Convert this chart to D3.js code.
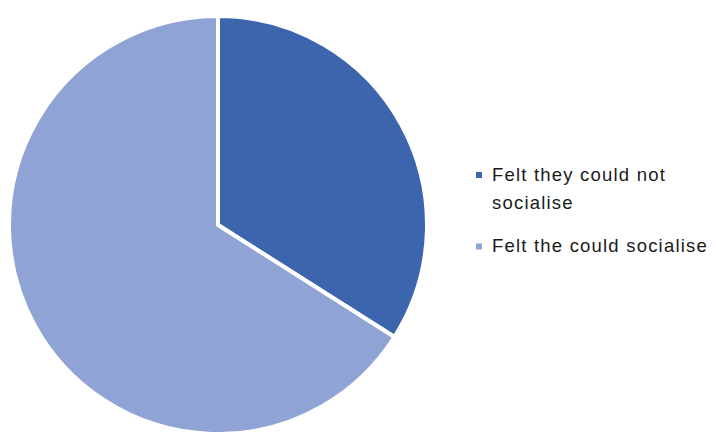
<!DOCTYPE html>
<html><head><meta charset="utf-8">
<script src="https://cdn.jsdelivr.net/npm/d3@7"></script>
<style>body{margin:0;background:#fff}svg{display:block}</style>
</head><body>
<script>
const categories = ["Felt they could not socialise", "Felt the could socialise"];
const values = [34, 66];
const legendLines = [["Felt they could not", "socialise"], ["Felt the could socialise"]];
const colors = ["#3D65AE", "#8FA4D4"];

const W = 716, H = 432;
const svg = d3.select("body").append("svg").attr("width", W).attr("height", H);
const cx = 218, cy = 225, r = 209;

const pie = d3.pie().sort(null).value(d => d.v);
const arc = d3.arc().innerRadius(0).outerRadius(r);
const data = categories.map((c, i) => ({c, v: values[i], col: colors[i]}));

svg.append("g").attr("transform", `translate(${cx},${cy})`)
  .selectAll("path").data(pie(data)).join("path")
  .attr("d", arc).attr("fill", d => d.data.col)
  .attr("stroke", "#fff").attr("stroke-width", 4).attr("stroke-linejoin", "round");

const lg = svg.append("g");
const baselines = [[180.5, 208.5], [252]];
legendLines.forEach((lines, i) => {
  lg.append("rect").attr("x", 476).attr("y", baselines[i][0] - 8.5).attr("width", 6).attr("height", 6).attr("fill", colors[i]);
  lines.forEach((t, j) => {
    lg.append("text").attr("x", 492).attr("y", baselines[i][j])
      .attr("font-family", "Liberation Sans, Arial, sans-serif").attr("font-size", 18.5)
      .attr("letter-spacing", 1.2).attr("fill", "#1a1a1a").text(t);
  });
});
</script>
</body></html>
